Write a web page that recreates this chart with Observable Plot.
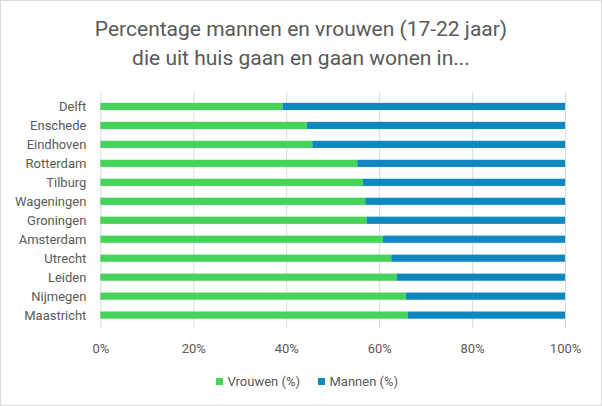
<!DOCTYPE html>
<html>
<head>
<meta charset="utf-8">
<script src="https://cdn.jsdelivr.net/npm/d3@7"></script>
<script src="https://cdn.jsdelivr.net/npm/@observablehq/plot@0.6"></script>
<style>
  html, body { margin: 0; padding: 0; background: #fff; }
  #frame { position: relative; width: 602px; height: 406px; box-sizing: border-box; border: 1px solid #d9d9d9; background: #fff; font-family: Roboto, "Noto Sans", sans-serif; color: #595959; overflow: hidden; }
  #title { position: absolute; top: 14px; left: 0; width: 600px; text-align: center; font-family: Roboto, sans-serif; font-size: 21px; line-height: 29px; color: #595959; }
  #chart { position: absolute; top: 79px; left: -1px; }
  #legend { position: absolute; top: 373px; left: 6px; width: 600px; display: flex; justify-content: center; align-items: center; font-size: 13px; color: #595959; }
  .item { display: flex; align-items: center; margin: 0 9px; }
  .sw { width: 7.5px; height: 7.5px; margin-right: 4px; }
</style>
</head>
<body>
<div id="frame">
  <div id="title">Percentage mannen en vrouwen (17-22 jaar)<br>die uit huis gaan en gaan wonen in...</div>
  <div id="chart"></div>
  <div id="legend"></div>
</div>
<script>
const cities = ["Delft","Enschede","Eindhoven","Rotterdam","Tilburg","Wageningen","Groningen","Amsterdam","Utrecht","Leiden","Nijmegen","Maastricht"];
const vrouwen = [39.2,44.4,45.6,55.3,56.5,57.0,57.3,60.8,62.6,63.8,65.7,66.1];
const mannen  = [60.8,55.6,54.4,44.7,43.5,43.0,42.7,39.2,37.4,36.2,34.3,33.9];
const series = ["Vrouwen (%)","Mannen (%)"];
const colors = ["#45D35A","#0E88BE"];
const xTicks = [0,20,40,60,80,100];

const rows = [];
cities.forEach((c, i) => {
  rows.push({city: c, serie: series[0], value: vrouwen[i]});
  rows.push({city: c, serie: series[1], value: mannen[i]});
});

const plot = Plot.plot({
  width: 602,
  height: 281,
  marginLeft: 100.5,
  marginRight: 36,
  marginTop: 12,
  marginBottom: 32,
  style: {fontFamily: "Roboto, 'Noto Sans', sans-serif", fontSize: "13px", color: "#595959", background: "transparent"},
  x: {domain: [0,100], ticks: xTicks, tickFormat: d => d + "%", tickSize: 0, tickPadding: 15, label: null},
  y: {domain: cities, padding: 0, tickSize: 0, tickPadding: 14.5, label: null},
  color: {domain: series, range: colors},
  marks: [
    Plot.ruleX(xTicks, {stroke: "#d9d9d9", strokeWidth: 1, strokeOpacity: 1}),
    Plot.barX(rows, Plot.stackX({x: "value", y: "city", fill: "serie", order: series, insetTop: 5.9, insetBottom: 5.9})),
    Plot.axisY({tickSize: 0, tickPadding: 14.5, fill: "#595959", fontSize: 13}),
    Plot.axisX({ticks: xTicks, tickFormat: d => d + "%", tickSize: 0, tickPadding: 15, fill: "#595959", fontSize: 13})
  ]
});
document.getElementById("chart").appendChild(plot);

const legend = document.getElementById("legend");
series.forEach((s, i) => {
  const it = document.createElement("div");
  it.className = "item";
  const sw = document.createElement("div");
  sw.className = "sw";
  sw.style.background = colors[i];
  const t = document.createElement("span");
  t.textContent = s;
  it.appendChild(sw); it.appendChild(t);
  legend.appendChild(it);
});
</script>
</body>
</html>
